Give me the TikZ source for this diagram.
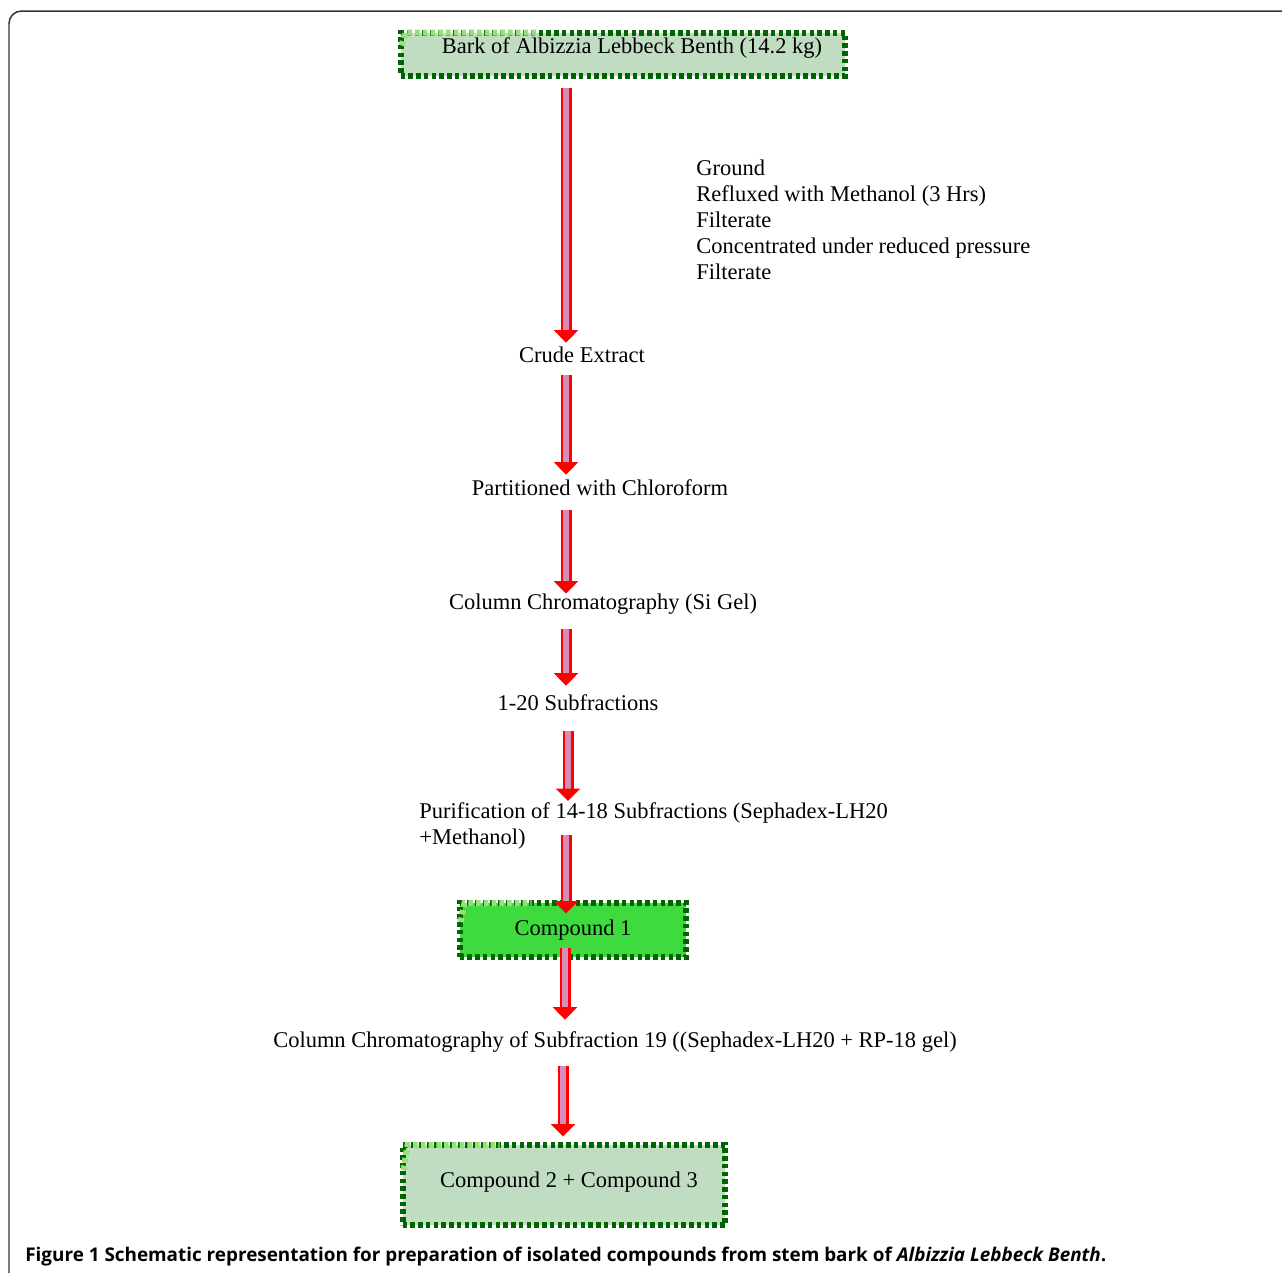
\documentclass[tikz,border=0pt]{standalone}
\usepackage{fontspec}
\setmainfont{Liberation Serif}
\newfontfamily\captionfont{Open Sans}
\usepackage{xcolor}
\usetikzlibrary{arrows.meta}
\definecolor{gDark}{RGB}{0,100,0}
\definecolor{gPale}{RGB}{193,221,193}
\definecolor{gBright}{RGB}{62,219,62}
\definecolor{gGlow}{RGB}{150,225,120}
\definecolor{aRed}{RGB}{255,0,0}
\definecolor{aPink}{RGB}{218,140,185}
\tikzset{
flowtext/.style={inner sep=0pt,text height=0.3cm,text depth=0.1cm,font=\fontsize{12.8}{14.8}\selectfont},
notetext/.style={inner sep=0pt,align=left,font=\fontsize{12.8}{14.8}\selectfont},
greenbox/.style={rectangle,draw=gDark,line width=0.12cm,dash pattern=on 0.09cm off 0.065cm,fill=gPale,inner sep=0pt,align=center,font=\fontsize{12.8}{14.8}\selectfont},
glow/.style={draw=gGlow,line width=0.12cm,dash pattern=on 0.09cm off 0.065cm},
flowarrow/.style={draw=aRed,line width=0.045cm,double=aPink,double distance=0.13cm,-{Triangle[width=0.48cm,length=0.25cm]}},
frame/.style={draw=black!80,line width=0.03cm,rounded corners=0.25cm}
}
\begin{document}
\begin{tikzpicture}[x=0.02cm,y=-0.02cm]
\useasboundingbox (0,0) rectangle (1282,1272);
\draw[frame] (9,1280) -- (9,11) -- (1290,11);
\coordinate (axis) at (566,0);
% boxes
\node[greenbox,minimum width=8.9cm,minimum height=0.86cm,text height=0.3cm,text depth=0.34cm] (bark) at (623,54) {\hspace*{0.36cm}Bark of Albizzia Lebbeck Benth (14.2 kg)};
\node[greenbox,fill=gBright,minimum width=4.54cm,minimum height=1.08cm] (cmpa) at (573,930) {Compound 1};
\node[greenbox,minimum width=6.46cm,minimum height=1.6cm,text height=0.3cm,text depth=0.2cm] (cmpbc) at (564,1185) {\hspace*{0.2cm}Compound 2 + Compound 3};
\draw[glow] ([shift={(4,16)}]bark.north west) -- ([shift={(8,3)}]bark.north west) -- ([shift={(140,3)}]bark.north west);
\draw[glow] ([shift={(4,22)}]cmpa.north west) -- ([shift={(8,3)}]cmpa.north west) -- ([shift={(75,3)}]cmpa.north west);
\draw[glow] ([shift={(4,28)}]cmpbc.north west) -- ([shift={(8,3)}]cmpbc.north west) -- ([shift={(100,3)}]cmpbc.north west);
% steps
\node[flowtext] (crude) at (582,357) {Crude Extract};
\node[flowtext] (chloro) at (600,490) {Partitioned with Chloroform};
\node[flowtext] (silica) at (603,604) {Column Chromatography (Si Gel)};
\node[flowtext] (subfr) at (578,705) {1-20 Subfractions};
\node[notetext,anchor=west] (purif) at (419,826) {Purification of 14-18 Subfractions (Sephadex-LH20\\+Methanol)};
\node[flowtext] (rpgel) at (615,1042) {Column Chromatography of Subfraction 19 ((Sephadex-LH20 + RP-18 gel)};
\node[notetext,anchor=west] (steps) at (696,220) {Ground\\ Refluxed with Methanol (3 Hrs)\\ Filterate\\ Concentrated under reduced pressure\\ Filterate};
% arrows
\draw[flowarrow,shorten <=0.19cm,shorten >=0.08cm] (bark.south -| axis) -- (crude.north -| axis);
\draw[flowarrow,shorten <=0.16cm,shorten >=0.1cm] (crude.south -| axis) -- (chloro.north -| axis);
\draw[flowarrow,shorten <=0.2cm] (chloro.south -| axis) -- (silica.north -| axis);
\draw[flowarrow,shorten <=0.3cm,shorten >=0.18cm] (silica.south -| axis) -- (subfr.north -| axis);
\draw[flowarrow,shorten <=0.32cm,shorten >=0.5cm] ([xshift=0.04cm]subfr.south -| axis) -- ([xshift=0.04cm]purif.center -| axis);
\draw[flowarrow,shorten <=0.18cm,shorten >=0.33cm] (purif.center -| axis) -- (cmpa.center -| axis);
\draw[flowarrow,shorten <=0.35cm,shorten >=0.24cm] ([xshift=-0.02cm]cmpa.center -| axis) -- ([xshift=-0.02cm]rpgel.north -| axis);
\draw[flowarrow,shorten <=0.28cm,shorten >=0.11cm] ([xshift=-0.06cm]rpgel.south -| axis) -- ([xshift=-0.06cm]cmpbc.north -| axis);
% caption
\node[anchor=west,inner sep=0pt,font=\captionfont\bfseries\fontsize{10.75}{12}\selectfont] (caption) at (25,1257) {Figure 1 Schematic representation for preparation of isolated compounds from stem bark of \textit{Albizzia Lebbeck Benth}.};
\end{tikzpicture}
\end{document}
